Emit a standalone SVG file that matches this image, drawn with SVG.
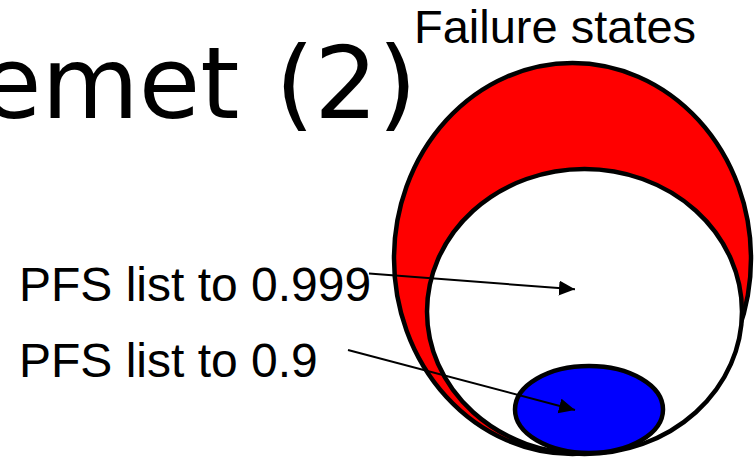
<svg xmlns="http://www.w3.org/2000/svg" width="754" height="458" viewBox="0 0 754 458">
<style>
  .sans { font-family: "Liberation Sans", Arial, sans-serif; fill: #000; }
  .title { font-family: "DejaVu Sans", Verdana, sans-serif; fill: #000; }
  .set { stroke: #000; stroke-width: 4.5; }
  .conn { stroke: #000; stroke-width: 2; fill: none; }
</style>
<defs>
  <marker id="arrow" markerUnits="userSpaceOnUse" markerWidth="18" markerHeight="16" refX="16" refY="7.5" orient="auto">
    <path d="M0,0 L16,7.5 L0,15 Z" fill="#000"/>
  </marker>
</defs>
<rect width="754" height="458" fill="#fff"/>
<text class="title" x="417" y="118" font-size="100" text-anchor="end" word-spacing="4">emet (2)</text>
<g id="failure-states">
  <ellipse class="set" cx="572.5" cy="258.5" rx="178.5" ry="195.5" fill="#ff0000"/>
  <text class="sans" x="414" y="43" font-size="47">Failure states</text>
</g>
<g id="pfs-0999">
  <ellipse class="set" cx="584.5" cy="311.5" rx="157.5" ry="142.5" fill="#fff"/>
</g>
<g id="pfs-09">
  <ellipse class="set" cx="589" cy="409.5" rx="74" ry="43.5" fill="#0000ff"/>
</g>
<g id="label-0999">
  <text class="sans" x="19" y="301" font-size="48">PFS list to 0.999</text>
</g>
<g id="label-09">
  <text class="sans" x="19" y="377" font-size="48">PFS list to 0.9</text>
</g>
<g id="connectors">
  <line class="conn" x1="369" y1="273.5" x2="575" y2="289.3" marker-end="url(#arrow)"/>
  <line class="conn" x1="348" y1="350" x2="575" y2="410" marker-end="url(#arrow)"/>
</g>
</svg>
